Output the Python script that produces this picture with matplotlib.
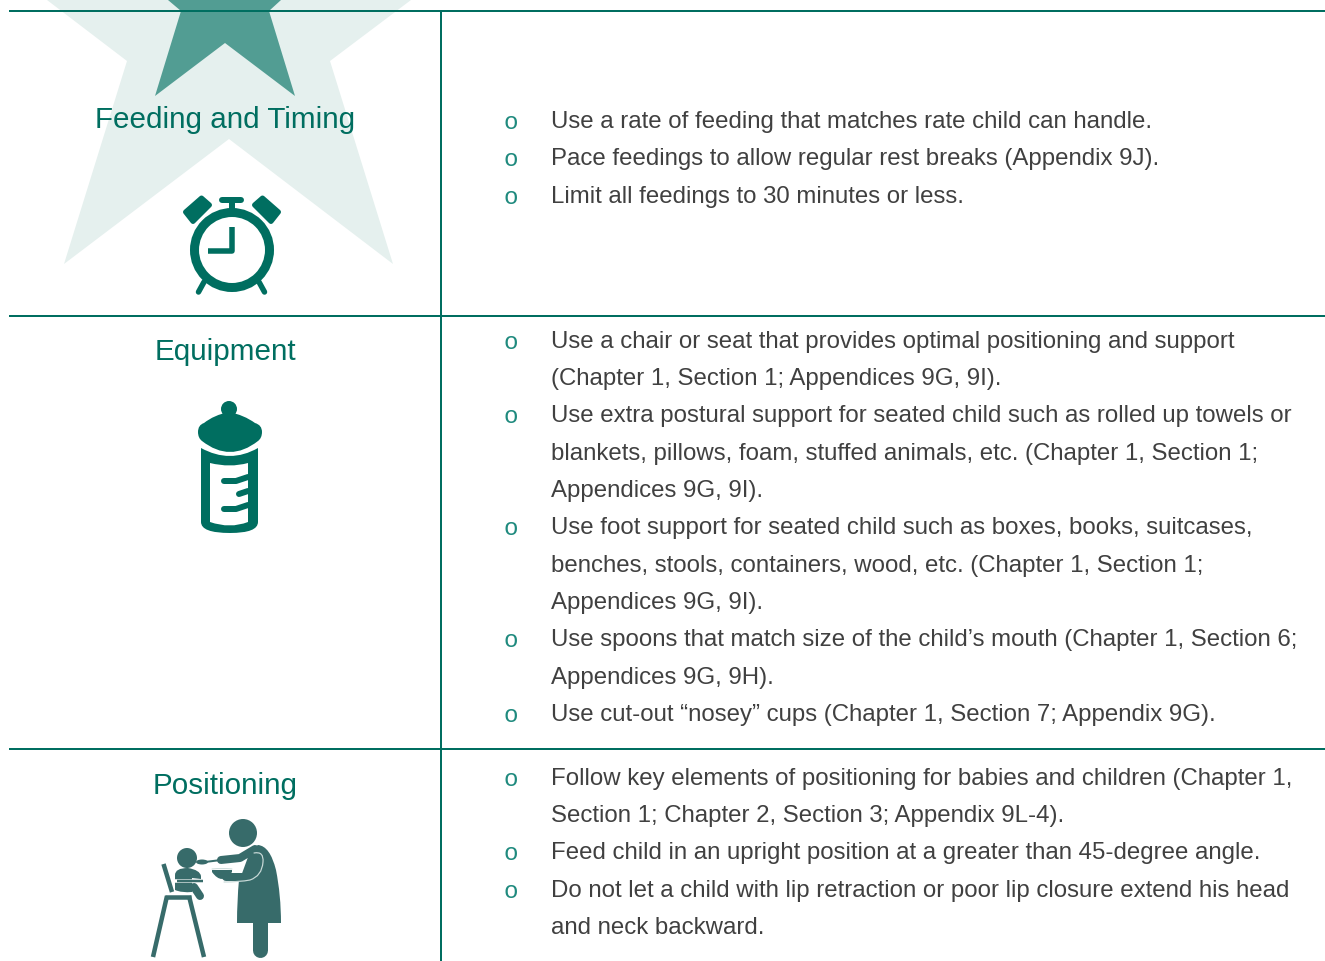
import matplotlib
matplotlib.use("Agg")
import matplotlib.pyplot as plt
from matplotlib.patches import Polygon, Circle, Ellipse, PathPatch
from matplotlib.path import Path

W, H = 1325, 962
TEAL = "#006E60"
DARK = "#376B6A"
TEXT = "#404040"
BULLET = "#1F8A7E"

section_titles = ["Feeding and Timing", "Equipment", "Positioning"]
title_baselines = [127.5, 359, 793]

body_lines = [
    (True, 126.6, "Use a rate of feeding that matches rate child can handle."),
    (True, 163.6, "Pace feedings to allow regular rest breaks (Appendix 9J)."),
    (True, 201.6, "Limit all feedings to 30 minutes or less."),
    (True, 346.6, "Use a chair or seat that provides optimal positioning and support"),
    (False, 383.6, "(Chapter 1, Section 1; Appendices 9G, 9I)."),
    (True, 420.6, "Use extra postural support for seated child such as rolled up towels or"),
    (False, 458.6, "blankets, pillows, foam, stuffed animals, etc. (Chapter 1, Section 1;"),
    (False, 495.6, "Appendices 9G, 9I)."),
    (True, 532.6, "Use foot support for seated child such as boxes, books, suitcases,"),
    (False, 570.6, "benches, stools, containers, wood, etc. (Chapter 1, Section 1;"),
    (False, 607.6, "Appendices 9G, 9I)."),
    (True, 644.6, "Use spoons that match size of the child\u2019s mouth (Chapter 1, Section 6;"),
    (False, 682.6, "Appendices 9G, 9H)."),
    (True, 719.6, "Use cut-out \u201cnosey\u201d cups (Chapter 1, Section 7; Appendix 9G)."),
    (True, 783.6, "Follow key elements of positioning for babies and children (Chapter 1,"),
    (False, 820.6, "Section 1; Chapter 2, Section 3; Appendix 9L-4)."),
    (True, 857.6, "Feed child in an upright position at a greater than 45-degree angle."),
    (True, 895.6, "Do not let a child with lip retraction or poor lip closure extend his head"),
    (False, 932.6, "and neck backward."),
]

plt.rcParams["font.family"] = ["Liberation Sans", "DejaVu Sans"]
fig = plt.figure(figsize=(W / 100, H / 100), dpi=100)
ax = fig.add_axes([0, 0, 1, 1])
ax.set_xlim(0, W)
ax.set_ylim(H - 1, -1)
ax.axis("off")


def px(v):
    return v * 0.72


def line(xs, ys, w, c, z=5, cap="round"):
    ax.plot(xs, ys, color=c, lw=px(w), solid_capstyle=cap, solid_joinstyle="round", zorder=z)


def curve(verts, codes, fc="none", ec="none", lw=0, z=5):
    ax.add_patch(PathPatch(Path(verts, codes), fc=fc, ec=ec, lw=px(lw), zorder=z,
                           capstyle="round", joinstyle="round"))


# stars
ax.add_patch(Polygon([(64, 264), (229, 139), (393, 264), (330, 61), (411, 0), (411, -2), (47, -2), (47, 0), (127, 61)],
                     closed=True, fc="#E5F0EE", ec="none", zorder=1))
ax.add_patch(Polygon([(155, 96), (225, 43), (295, 96), (269, 11), (281, 0), (281, -2), (168, -2), (168, 0), (181, 11)],
                     closed=True, fc="#529D93", ec="none", zorder=2))

# rules
for y0 in [11, 316, 749]:
    line([9, W], [y0, y0], 2, TEAL, z=3, cap="butt")
line([441, 441], [11, H], 2, TEAL, z=3, cap="butt")

# titles
for t, b in zip(section_titles, title_baselines):
    ax.text(225.5, b, t, ha="center", va="baseline", fontsize=21.3, color=TEAL, zorder=6)

# body
for bullet, b, t in body_lines:
    ax.text(551, b, t, ha="left", va="baseline", fontsize=17.28, color=TEXT, zorder=6)
    if bullet:
        ax.text(510.5, b + 1, "o", ha="center", va="baseline", fontsize=17.5, color=BULLET,
                family="Liberation Mono", zorder=6)

# clock
ax.add_patch(Circle((232, 250), 37.5, fc="none", ec=TEAL, lw=px(9), zorder=5))
line([232, 232, 208], [227, 250.5, 250.5], 5.5, TEAL, cap="butt")
line([232, 232], [203, 212], 6, TEAL, cap="butt")
line([222, 241], [200, 200], 6, TEAL)
for pts in ([(201.5, 198), (209.5, 205), (193, 221.5), (185.5, 212)],
            [(262.5, 198), (254.5, 205), (271, 221.5), (278.5, 212)]):
    ax.add_patch(Polygon(pts, closed=True, fc=TEAL, ec=TEAL, lw=px(5), joinstyle="round", zorder=5))
line([204, 198.5], [282, 292], 5.5, TEAL)
line([259, 264.5], [282, 292], 5.5, TEAL)

# bottle
ax.add_patch(Circle((229, 409), 8, fc=TEAL, ec="none", zorder=5))
M, C3, L, Z = Path.MOVETO, Path.CURVE3, Path.LINETO, Path.CLOSEPOLY
curve([(198, 432), (198, 425), (204, 423), (214, 415), (229, 412), (244, 415), (255, 423),
       (262, 425), (262, 432), (262, 438), (258, 441), (230, 463), (202, 441), (198, 438),
       (198, 432), (198, 432)],
      [M, C3, C3, C3, C3, C3, C3, C3, C3, C3, C3, C3, C3, C3, C3, Z], fc=TEAL)
curve([(201, 448), (230, 464), (258, 448), (258, 522), (258, 533), (230, 533), (201, 533),
       (201, 522), (201, 448), (201, 448)],
      [M, C3, C3, L, C3, C3, C3, C3, L, Z], fc=TEAL)
curve([(210, 463), (230, 468), (248, 463), (248, 522), (230, 529), (210, 522), (210, 463)],
      [M, C3, C3, L, C3, C3, Z], fc="white", z=6)
line([224, 236, 248], [481, 481, 477], 6, TEAL, z=7)
line([239, 248], [494, 491], 6, TEAL, z=7)
line([224, 236, 248], [509, 509, 505], 6, TEAL, z=7)

# mother
ax.add_patch(Circle((243, 833), 14, fc=DARK, ec="none", zorder=5))
curve([(258, 845), (270, 846), (276, 870), (281, 895), (281, 923), (237, 923), (237, 900),
       (239, 880), (245, 868), (250, 850), (258, 845)],
      [M, C3, C3, C3, L, L, C3, C3, C3, C3, L], fc=DARK)
line([259.5, 259.5], [920, 950], 15, DARK)
line([221, 240, 255], [860, 858, 849], 8, DARK, z=6)
line([226, 244], [877, 877], 8, DARK, z=6)
curve([(254, 853), (264, 851), (263, 862), (262, 876), (250, 880), (240, 882), (224, 882)],
      [M, C3, C3, C3, C3, C3, C3], ec="#C9DAD8", lw=1.2, z=7)
ax.add_patch(Ellipse((202, 862), 12, 5, fc=DARK, ec="none", zorder=6))
line([205, 221], [862, 860], 2, DARK, z=6)
curve([(212, 870), (232, 870), (232, 872), (222, 886), (212, 872), (212, 870)],
      [M, L, L, C3, C3, Z], fc=DARK, z=6)
curve([(212, 869), (222, 868), (232, 869)], [M, C3, C3], ec="#C9DAD8", lw=1, z=7)

# child and high chair
ax.add_patch(Circle((187, 858), 10, fc=DARK, ec="none", zorder=5))
curve([(175, 875), (175, 868), (188, 868), (200, 870), (201, 876), (201, 879), (192, 878),
       (192, 892), (182, 893), (175, 890), (175, 875)],
      [M, C3, C3, C3, C3, L, L, L, C3, C3, L], fc=DARK)
line([194, 200], [887, 896], 8, DARK)
line([175, 203], [880.5, 880.5], 3.5, "white", z=6, cap="butt")
line([177, 203], [880.5, 880.5], 2.5, DARK, z=7, cap="butt")
line([163.5, 172], [864, 892], 4.5, DARK, cap="butt")
line([167, 153], [896, 957], 4.5, DARK, cap="butt")
line([189, 204], [896, 957], 4.5, DARK, cap="butt")
line([165, 191], [897, 897], 4.5, DARK, cap="butt")

fig.savefig("out.png", dpi=100, facecolor="white")
